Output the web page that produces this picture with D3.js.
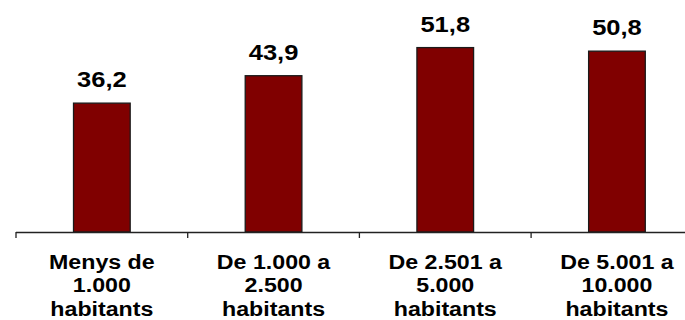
<!DOCTYPE html>
<html>
<head>
<meta charset="utf-8">
<script src="https://cdn.jsdelivr.net/npm/d3@7"></script>
<style>
  html, body { margin: 0; padding: 0; background: #fff; }
  svg { display: block; }
  text { font-family: "Liberation Sans", Arial, sans-serif; font-weight: bold; fill: #000; }
</style>
</head>
<body>
<div id="chart"></div>
<script>
const categories = [
  ["Menys de", "1.000", "habitants"],
  ["De 1.000 a", "2.500", "habitants"],
  ["De 2.501 a", "5.000", "habitants"],
  ["De 5.001 a", "10.000", "habitants"]
];
const values = [36.2, 43.9, 51.8, 50.8];
const valueLabels = ["36,2", "43,9", "51,8", "50,8"];

const W = 685, H = 320;
const svg = d3.select("#chart").append("svg").attr("width", W).attr("height", H);

const x0 = 16, band = 171.7;
const x = d3.scaleBand()
  .domain(d3.range(categories.length))
  .range([x0, x0 + band * categories.length])
  .paddingInner(0.67).paddingOuter(0.335);

const baseY = 232;
const y = d3.scaleLinear().domain([0, 60]).range([baseY, baseY - 3.56 * 60]);

// bars
svg.selectAll("rect.bar").data(values).enter().append("rect")
  .attr("class", "bar")
  .attr("x", (d, i) => x(i))
  .attr("width", x.bandwidth())
  .attr("y", d => y(d))
  .attr("height", d => y(0) - y(d))
  .attr("fill", "#800000")
  .attr("stroke", "#1a1a1a")
  .attr("stroke-width", 1.3);

// axis line
svg.append("line")
  .attr("x1", x0).attr("x2", W)
  .attr("y1", baseY + 0.5).attr("y2", baseY + 0.5)
  .attr("stroke", "#222").attr("stroke-width", 1.3);

// ticks at category boundaries
const bounds = d3.range(categories.length + 1).map(i => x0 + band * i).filter(v => v < W);
svg.selectAll("line.tick").data(bounds).enter().append("line")
  .attr("class", "tick")
  .attr("x1", d => d).attr("x2", d => d)
  .attr("y1", baseY).attr("y2", baseY + 6)
  .attr("stroke", "#222").attr("stroke-width", 1.3);

// value labels
svg.selectAll("g.vlab").data(values).enter().append("g")
  .attr("class", "vlab")
  .attr("transform", (d, i) => `translate(${x(i) + x.bandwidth() / 2},${y(d) - 16}) scale(1.16,1)`)
  .append("text")
  .attr("text-anchor", "middle")
  .attr("font-size", 22)
  .text((d, i) => valueLabels[i]);

// category labels
const cl = svg.selectAll("g.clab").data(categories).enter().append("g")
  .attr("class", "clab")
  .attr("transform", (d, i) => `translate(${x(i) + x.bandwidth() / 2},0)`);
cl.each(function(lines) {
  const g = d3.select(this);
  lines.forEach((t, j) => {
    g.append("g")
      .attr("transform", `translate(0,${268.5 + j * 23.5}) scale(1.16,1)`)
      .append("text")
      .attr("text-anchor", "middle")
      .attr("font-size", 20)
      .text(t);
  });
});
</script>
</body>
</html>
